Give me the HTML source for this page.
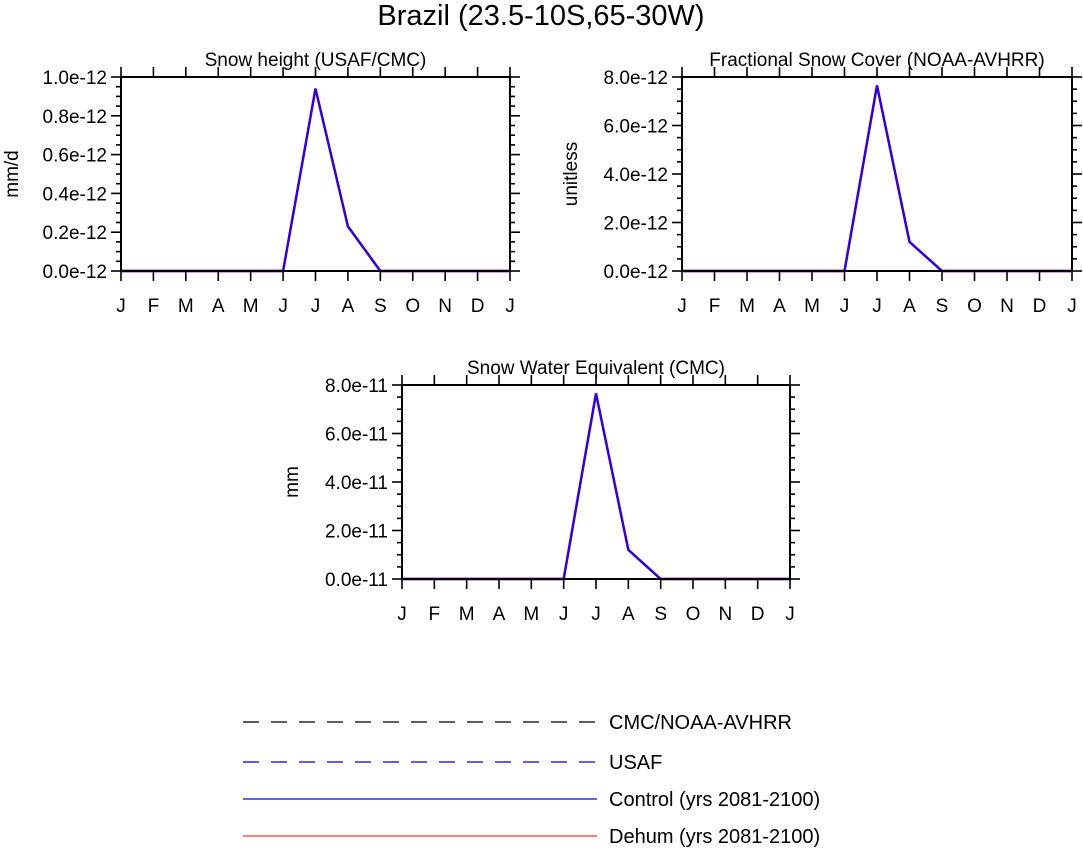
<!DOCTYPE html>
<html><head><meta charset="utf-8"><style>
body{margin:0;background:#fff;}
svg text{font-family:"Liberation Sans",Helvetica,sans-serif;fill:#000;}
</style></head><body>
<svg id="fig" width="1083" height="847" xmlns="http://www.w3.org/2000/svg">
<text x="541" y="25" font-size="29" text-anchor="middle">Brazil (23.5-10S,65-30W)</text>
<g>
<line x1="243" y1="722" x2="597" y2="722" stroke="#000" stroke-width="1.3" stroke-dasharray="16,12"/>
<text x="609" y="729" font-size="20">CMC/NOAA-AVHRR</text>
<line x1="243" y1="762" x2="597" y2="762" stroke="#0000e0" stroke-width="1.3" stroke-dasharray="16,12"/>
<text x="609" y="769" font-size="20">USAF</text>
<line x1="243" y1="799" x2="597" y2="799" stroke="#0000e0" stroke-width="1.3"/>
<text x="609" y="806" font-size="20">Control (yrs 2081-2100)</text>
<line x1="243" y1="836" x2="597" y2="836" stroke="#ff3030" stroke-width="1.3"/>
<text x="609" y="843" font-size="20">Dehum (yrs 2081-2100)</text>
</g>
</svg>
<script>
const months = ["J","F","M","A","M","J","J","A","S","O","N","D","J"];
const snowHeightControl = [0,0,0,0,0,0,0.94,0.23,0,0,0,0,0];
const snowHeightDehum = [0,0,0,0,0,0,0.94,0.23,0,0,0,0,0];
const snowCoverControl = [0,0,0,0,0,0,7.65,1.2,0,0,0,0,0];
const snowCoverDehum = [0,0,0,0,0,0,7.65,1.2,0,0,0,0,0];
const sweControl = [0,0,0,0,0,0,7.65,1.2,0,0,0,0,0];
const sweDehum = [0,0,0,0,0,0,7.65,1.2,0,0,0,0,0];
const ticksHeight = ["0.0e-12","0.2e-12","0.4e-12","0.6e-12","0.8e-12","1.0e-12"];
const ticksCover = ["0.0e-12","2.0e-12","4.0e-12","6.0e-12","8.0e-12"];
const ticksSwe = ["0.0e-11","2.0e-11","4.0e-11","6.0e-11","8.0e-11"];

const NS="http://www.w3.org/2000/svg";
const svg=document.getElementById('fig');
function mk(tag,attrs,parent){const e=document.createElementNS(NS,tag);for(const k in attrs)e.setAttribute(k,attrs[k]);(parent||svg).appendChild(e);return e;}

function panel(o){
  const g=mk('g',{});
  
  
  const {x0,x1,y0,y1,ymax,majorStep,minorStep}=o;
  const xs=i=>x0+(x1-x0)*i/12;
  const ys=v=>y1-(y1-y0)*v/ymax;
  const t=mk('text',{x:(x0+x1)/2,y:y0-11,'font-size':19,'text-anchor':'middle'},g);
  t.textContent=o.title;
  
  
  const nMinor=Math.round(ymax/minorStep);
  for(let k=0;k<=nMinor;k++){
    const v=k*minorStep, y=ys(v);
    const isMajor=Math.abs(v/majorStep-Math.round(v/majorStep))<1e-6;
    const L=isMajor?10:5;
    mk('line',{x1:x0-L,y1:y,x2:x0,y2:y,stroke:'#000','stroke-width':1.6},g);
    mk('line',{x1:x1,y1:y,x2:x1+L,y2:y,stroke:'#000','stroke-width':1.6},g);
  }
  o.ticks.forEach((lab,i)=>{
    const tx=mk('text',{x:x0-14,y:ys(i*majorStep)+7,'font-size':19,'text-anchor':'end'},g);
    tx.textContent=lab;
    
    
  });
  months.forEach((m,i)=>{
    const x=xs(i);
    mk('line',{x1:x,y1:y0-10,x2:x,y2:y0,stroke:'#000','stroke-width':1.6},g);
    mk('line',{x1:x,y1:y1,x2:x,y2:y1+10,stroke:'#000','stroke-width':1.6},g);
    const tx=mk('text',{x:x,y:y1+41,'font-size':19,'text-anchor':'middle'},g);
    tx.textContent=m;
    
    
  });
  const yl=mk('text',{x:0,y:0,'font-size':19,'text-anchor':'middle',transform:`translate(${o.ylx},${(y0+y1)/2}) rotate(-90)`},g);
  yl.textContent=o.ylabel;
  
  
  [[o.dehum,'#ff2020','dehum-line'],[o.control,'#2a00f0','control-line']].forEach(([arr,c,n])=>{
    const p=mk('polyline',{points:arr.map((v,i)=>xs(i)+','+ys(v)).join(' '),fill:'none',stroke:c,'stroke-width':2.4,'stroke-linejoin':'miter'},g);
    
    
  });
  const r=mk('rect',{x:x0,y:y0,width:x1-x0,height:y1-y0,fill:'none',stroke:'#000','stroke-width':2},g);
  
  
}
panel({name:'snow-height-panel',title:'Snow height (USAF/CMC)',x0:121,x1:510,y0:77,y1:271,ymax:1.0,majorStep:0.2,minorStep:0.05,ticks:ticksHeight,ylabel:'mm/d',ylx:18,control:snowHeightControl,dehum:snowHeightDehum});
panel({name:'snow-cover-panel',title:'Fractional Snow Cover (NOAA-AVHRR)',x0:682,x1:1072,y0:77,y1:271,ymax:8,majorStep:2,minorStep:0.5,ticks:ticksCover,ylabel:'unitless',ylx:577,control:snowCoverControl,dehum:snowCoverDehum});
panel({name:'swe-panel',title:'Snow Water Equivalent (CMC)',x0:402,x1:790,y0:385,y1:579,ymax:8,majorStep:2,minorStep:0.5,ticks:ticksSwe,ylabel:'mm',ylx:298,control:sweControl,dehum:sweDehum});
</script>
</body></html>
